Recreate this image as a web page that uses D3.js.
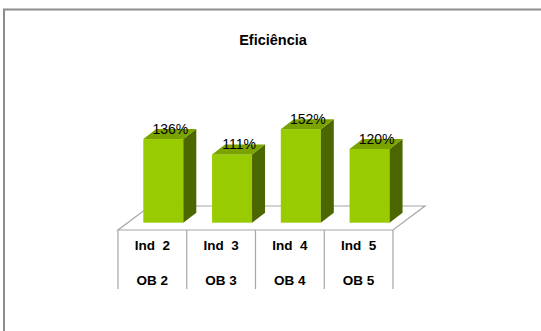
<!DOCTYPE html>
<html>
<head>
<meta charset="utf-8">
<script src="https://cdn.jsdelivr.net/npm/d3@7"></script>
<style>
  body { margin: 0; background: #fff; }
  svg { display: block; font-family: "Liberation Sans", Arial, sans-serif; }
</style>
</head>
<body>
<svg id="chart" width="541" height="331"></svg>
<script>
// chart values
const indicators = ["Ind  2", "Ind  3", "Ind  4", "Ind  5"];
const objectives = ["OB 2", "OB 3", "OB 4", "OB 5"];
const efficiency = [1.36, 1.11, 1.52, 1.20];
const title = "Eficiência";

const svg = d3.select("#chart");

// outer frame (only left and top edges show)
svg.append("path")
    .attr("d", "M4,331 V9.5 H541")
    .attr("fill", "none")
    .attr("stroke", "#8c8c8c")
    .attr("stroke-width", 2);

svg.append("text")
    .attr("x", 273)
    .attr("y", 45)
    .attr("text-anchor", "middle")
    .attr("font-weight", "bold")
    .attr("font-size", 14.5)
    .text(title);

// scales
const x = d3.scaleBand()
    .domain(indicators)
    .range([118, 393])
    .padding(0);

const y = d3.scaleLinear()
    .domain([0, 1.6])
    .range([222.7, 222.7 - 0.615 * 160]);

const floorFront = 230, floorBack = 206, floorDx = 32;
const barW = 40, depthX = 13, depthY = 10, barOff = 25.3;

// floor plane
const fl = x.range()[0], fr = x.range()[1];
svg.append("path")
    .attr("d", `M${fl},${floorFront} L${fr},${floorFront} L${fr + floorDx},${floorBack} L${fl + floorDx},${floorBack} Z`)
    .attr("fill", "#fff")
    .attr("stroke", "#a6a6a6")
    .attr("stroke-width", 1.2);

// category table lines
const bounds = indicators.map(d => x(d)).concat([fr]);
svg.append("g")
    .selectAll("line")
    .data(bounds)
    .enter().append("line")
    .attr("x1", d => d).attr("x2", d => d)
    .attr("y1", floorFront).attr("y2", 289)
    .attr("stroke", "#a6a6a6")
    .attr("stroke-width", 1.2);

const cats = svg.append("g")
    .attr("font-weight", "bold")
    .attr("font-size", 13.5)
    .attr("text-anchor", "middle");

cats.selectAll(".ind")
    .data(indicators)
    .enter().append("text")
    .attr("class", "ind")
    .attr("x", d => x(d) + x.bandwidth() / 2)
    .attr("y", 250)
    .text(d => d.replace(/ /g, "\u00a0"));

cats.selectAll(".ob")
    .data(objectives)
    .enter().append("text")
    .attr("class", "ob")
    .attr("x", (d, i) => x(indicators[i]) + x.bandwidth() / 2)
    .attr("y", 285)
    .text(d => d);

// 3D bars
const bars = svg.append("g")
    .selectAll("g")
    .data(efficiency)
    .enter().append("g");

const x0 = (d, i) => x(indicators[i]) + barOff;
const yb = y(0);

bars.append("rect")
    .attr("x", x0)
    .attr("y", d => y(d))
    .attr("width", barW)
    .attr("height", d => yb - y(d))
    .attr("fill", "#99cc00");

bars.append("path")
    .attr("d", (d, i) => {
        const a = x0(d, i) + barW, t = y(d);
        return `M${a},${t} L${a + depthX},${t - depthY} L${a + depthX},${yb - depthY} L${a},${yb} Z`;
    })
    .attr("fill", "#4c6600");

bars.append("path")
    .attr("d", (d, i) => {
        const a = x0(d, i), t = y(d);
        return `M${a},${t} L${a + barW},${t} L${a + barW + depthX},${t - depthY} L${a + depthX},${t - depthY} Z`;
    })
    .attr("fill", "#7aa300");

bars.append("text")
    .attr("x", (d, i) => x0(d, i) + barW / 2 + 7)
    .attr("y", d => y(d) - 5)
    .attr("text-anchor", "middle")
    .attr("font-size", 14)
    .attr("fill", "#000")
    .text(d => Math.round(d * 100) + "%");
</script>
</body>
</html>
